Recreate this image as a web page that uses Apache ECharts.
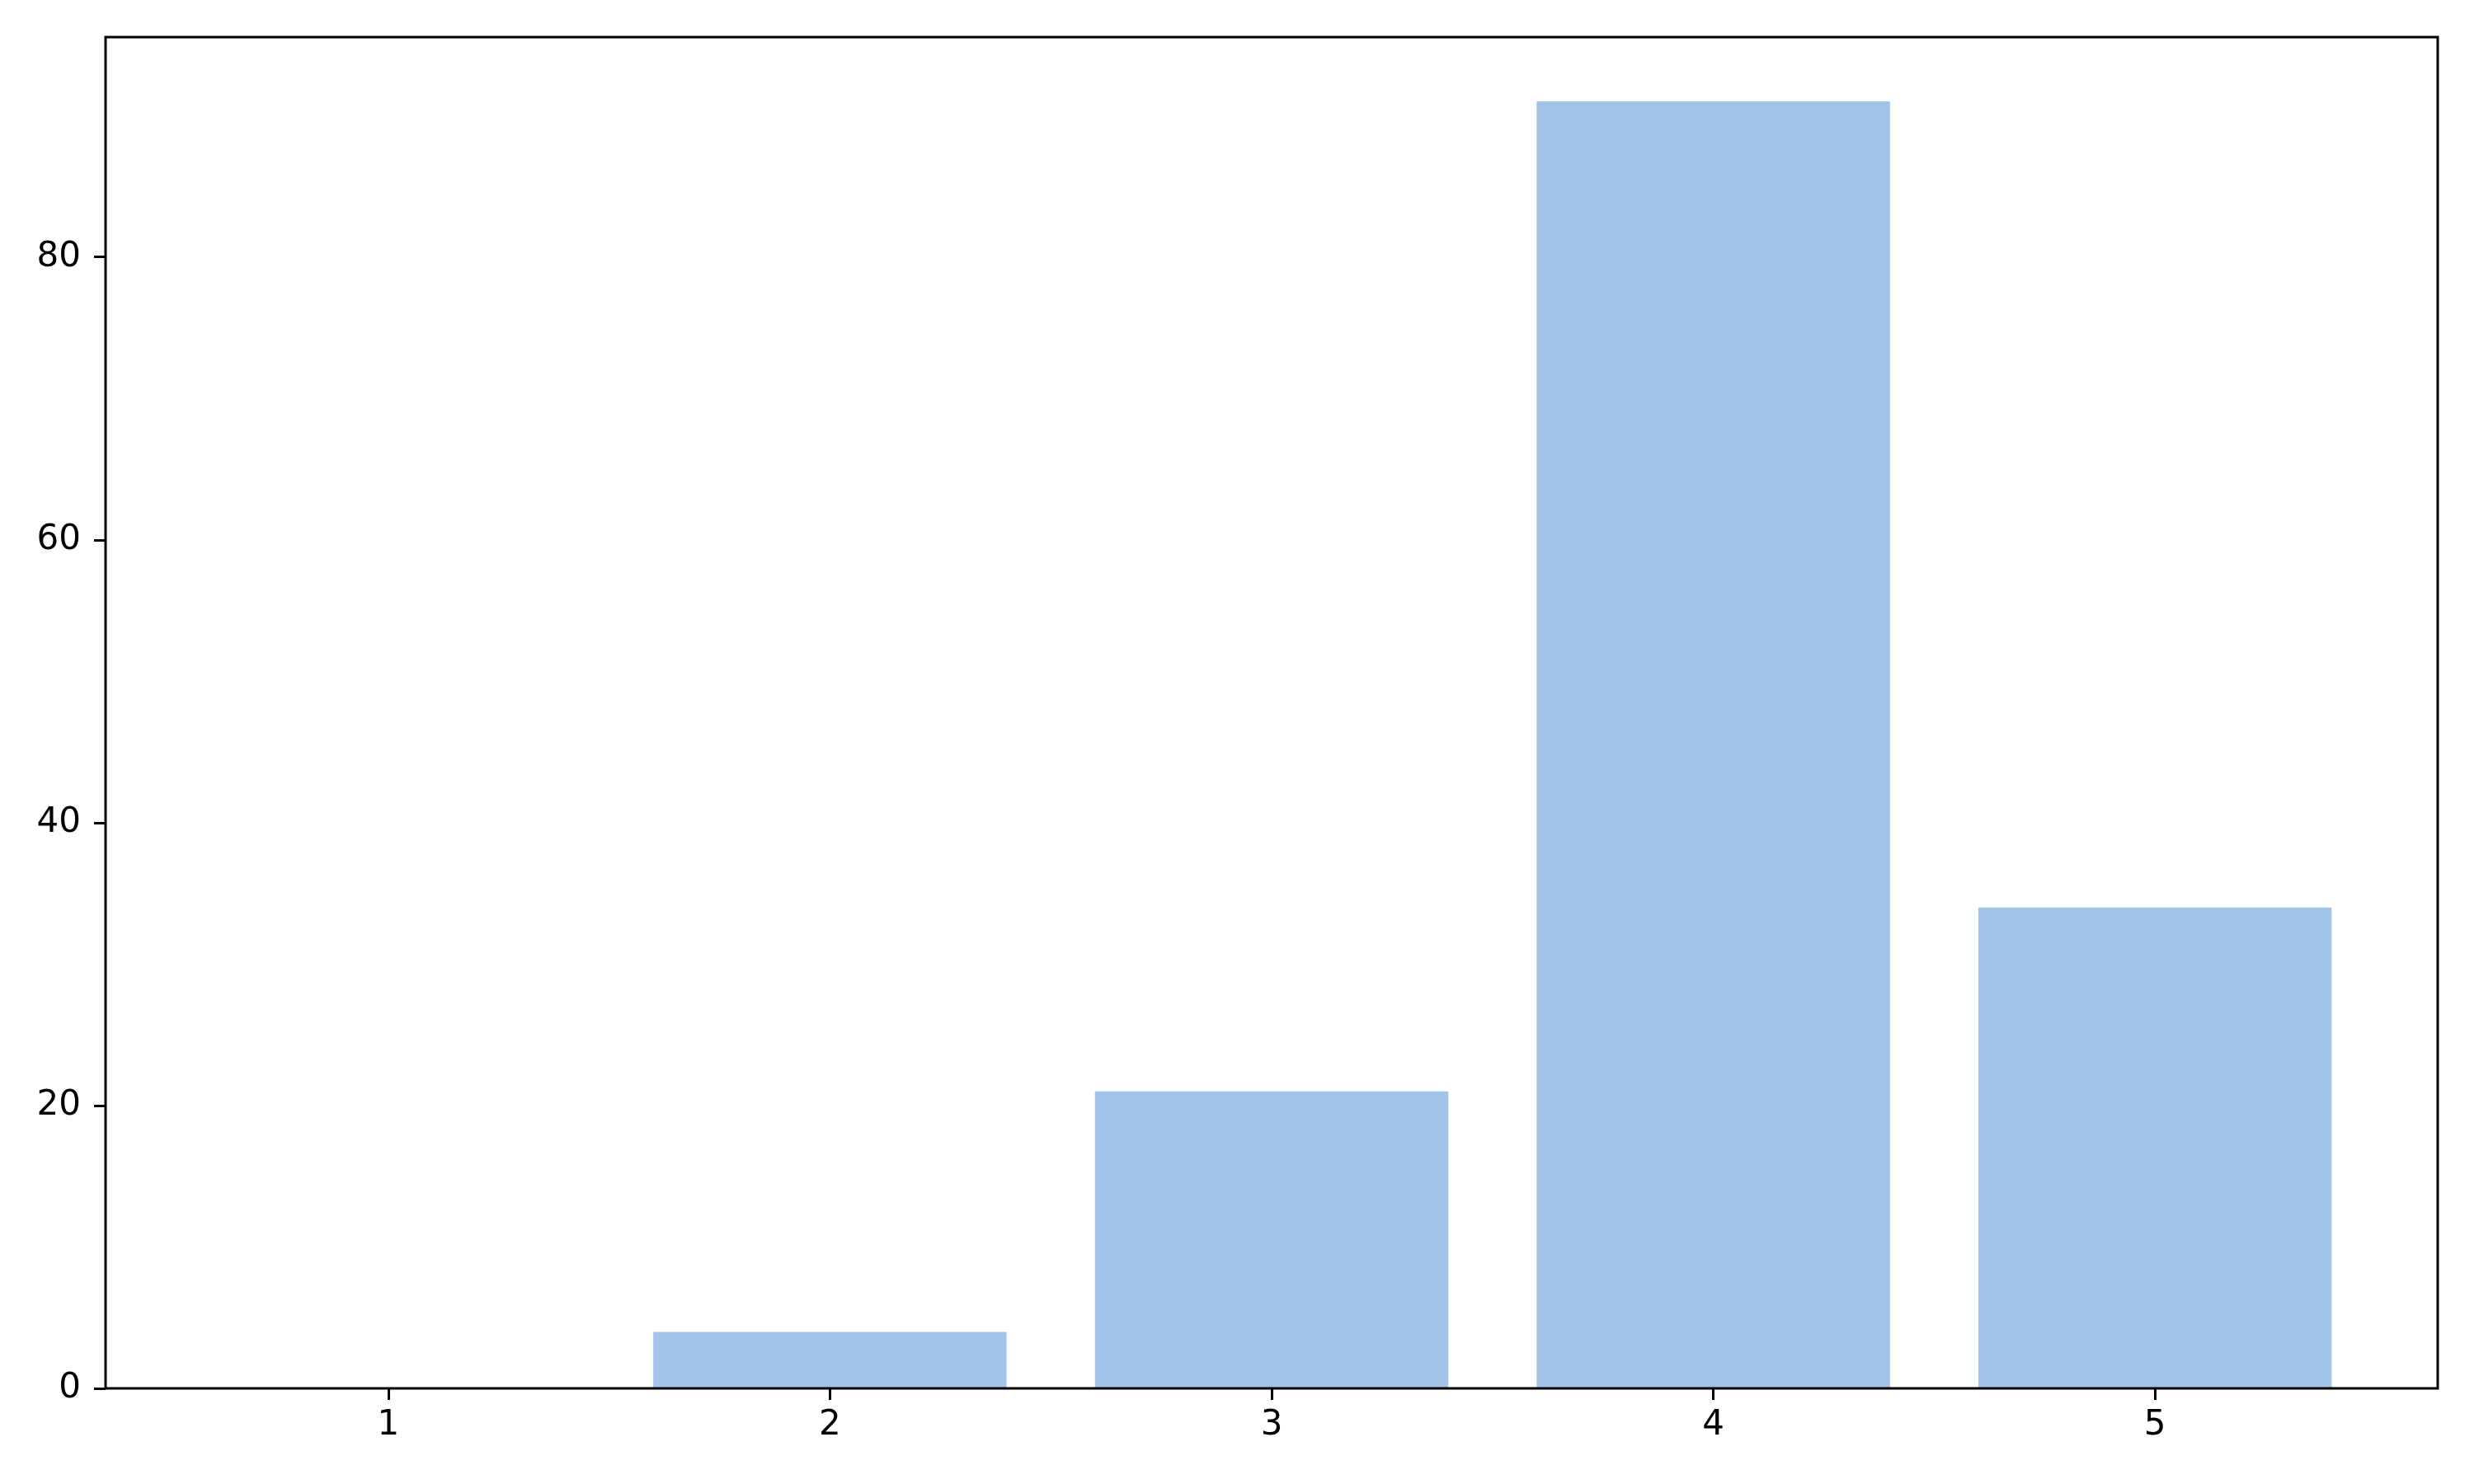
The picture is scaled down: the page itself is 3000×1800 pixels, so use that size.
<!DOCTYPE html>
<html>
<head>
<meta charset="utf-8">
<script src="https://cdn.jsdelivr.net/npm/echarts@6/dist/echarts.min.js"></script>
<style>
  html, body { margin: 0; padding: 0; background: #fff; }
  #main { width: 3000px; height: 1800px; }
</style>
</head>
<body>
<div id="main"></div>
<script>
// data
var categories = [1, 2, 3, 4, 5];
var counts = [0, 4, 21, 91, 34];
var yTicks = [0, 20, 40, 60, 80];

// axis limits like matplotlib's auto margins
var xMin = 0.36, xMax = 5.64;
var yMax = 95.55;

var gridLeft = 128, gridRight = 44, gridTop = 45, gridBottom = 116;
var plotWidth = 3000 - gridLeft - gridRight;
var barPx = 0.8 * plotWidth / (xMax - xMin);

var chart = echarts.init(document.getElementById('main'), null, { renderer: 'canvas' });

var seriesData = [];
for (var i = 0; i < categories.length; i++) {
  seriesData.push([categories[i], counts[i]]);
}

var labelFont = {
  color: '#000',
  fontSize: 42,
  fontFamily: 'DejaVu Sans'
};

var option = {
  backgroundColor: '#fff',
  animation: false,
  grid: {
    left: gridLeft,
    right: gridRight,
    top: gridTop,
    bottom: gridBottom,
    show: true,
    borderColor: '#000',
    borderWidth: 3,
    backgroundColor: 'transparent',
    z: 10
  },
  xAxis: {
    type: 'value',
    min: xMin,
    max: xMax,
    splitLine: { show: false },
    axisLine: { show: false },
    axisTick: {
      show: true,
      length: 14,
      customValues: categories,
      lineStyle: { color: '#000', width: 3 }
    },
    axisLabel: Object.assign({
      margin: 24,
      customValues: categories
    }, labelFont)
  },
  yAxis: {
    type: 'value',
    min: 0,
    max: yMax,
    splitLine: { show: false },
    axisLine: { show: false },
    axisTick: {
      show: true,
      length: 14,
      customValues: yTicks,
      lineStyle: { color: '#000', width: 3 }
    },
    axisLabel: Object.assign({
      margin: 30,
      padding: [6, 0, 0, 0],
      customValues: yTicks
    }, labelFont)
  },
  series: [{
    type: 'bar',
    data: seriesData,
    barWidth: barPx,
    itemStyle: { color: '#a1c4e8', borderWidth: 0 }
  }]
};

chart.setOption(option);
</script>
</body>
</html>
